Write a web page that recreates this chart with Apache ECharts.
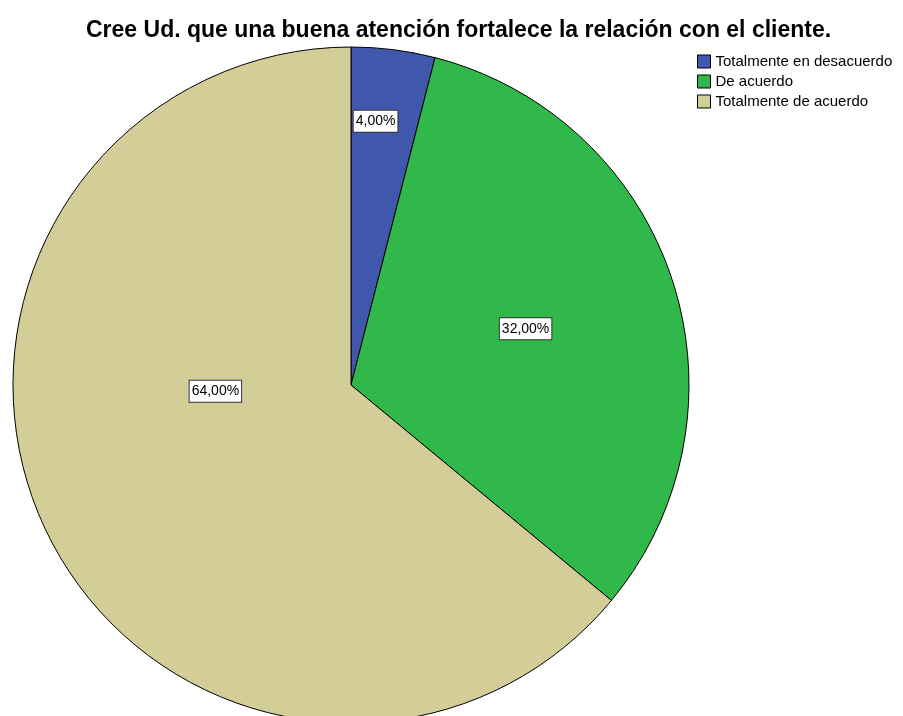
<!DOCTYPE html>
<html>
<head>
<meta charset="utf-8">
<script src="https://cdn.jsdelivr.net/npm/echarts@6/dist/echarts.min.js"></script>
<style>
  html, body { margin: 0; padding: 0; background: #fff; }
  #chart { width: 903px; height: 716px; }
</style>
</head>
<body>
<div id="chart"></div>
<script>
const categories = ['Totalmente en desacuerdo', 'De acuerdo', 'Totalmente de acuerdo'];
const percents = [4, 32, 64];
const colors = ['#3F58AB', '#30B94A', '#D3CE97'];
// nudges so labels sit where the original tool put them
const labelOffsets = [[3, -93], [11, -3], [20, -67]];

const chart = echarts.init(document.getElementById('chart'));

const data = categories.map((name, i) => ({
    name: name,
    value: percents[i],
    itemStyle: { color: colors[i] },
    label: { offset: labelOffsets[i] }
}));

const option = {
    backgroundColor: '#fff',
    animation: false,
    title: {
        text: 'Cree Ud. que una buena atención fortalece la relación con el cliente.',
        left: 81,
        top: 14,
        textStyle: {
            fontFamily: 'Liberation Sans, Arial, sans-serif',
            fontWeight: 'bold',
            fontSize: 23,
            color: '#000'
        }
    },
    legend: {
        orient: 'vertical',
        left: 692,
        top: 49,
        itemWidth: 13,
        itemHeight: 13,
        itemGap: 5,
        icon: 'rect',
        itemStyle: { borderColor: '#000', borderWidth: 1 },
        textStyle: {
            fontFamily: 'Liberation Sans, Arial, sans-serif',
            fontSize: 15,
            color: '#000'
        },
        data: categories
    },
    series: [{
        type: 'pie',
        center: [351, 385],
        radius: 338,
        startAngle: 90,
        clockwise: true,
        avoidLabelOverlap: false,
        itemStyle: { borderColor: '#000', borderWidth: 1 },
        label: {
            show: true,
            position: 'inside',
            formatter: p => p.value.toFixed(2).replace('.', ',') + '%',
            fontFamily: 'Liberation Sans, Arial, sans-serif',
            fontSize: 14,
            color: '#000',
            backgroundColor: '#fff',
            borderColor: '#333',
            borderWidth: 1,
            padding: [4, 2, 3, 2]
        },
        labelLine: { show: false },
        emphasis: { disabled: true },
        data: data
    }]
};

chart.setOption(option);
</script>
</body>
</html>
